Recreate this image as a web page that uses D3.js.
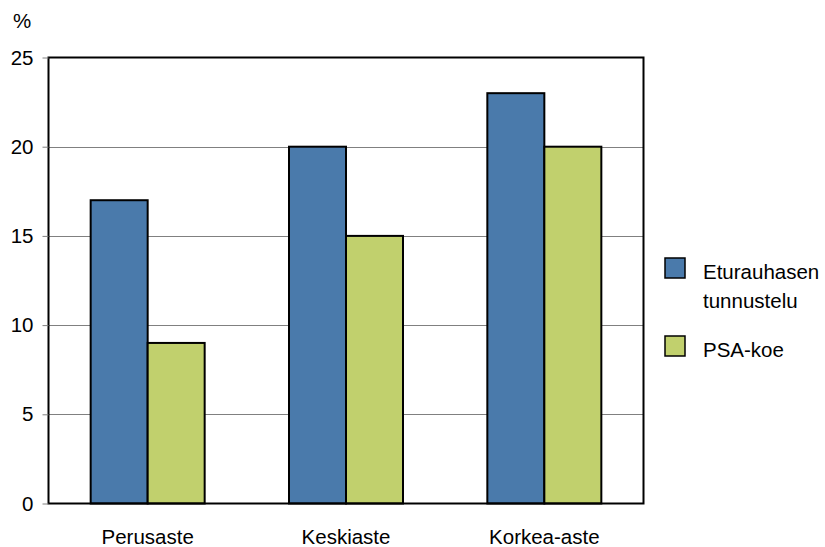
<!DOCTYPE html>
<html><head><meta charset="utf-8">
<script src="https://cdn.jsdelivr.net/npm/d3@7"></script>
<style>body{margin:0;background:#fff}svg{display:block}text{font-family:"Liberation Sans",Arial,sans-serif;fill:#000}</style>
</head><body><svg id="c" width="825" height="547"></svg>
<script>
const categories = ["Perusaste", "Keskiaste", "Korkea-aste"];
const seriesNames = ["Eturauhasen tunnustelu", "PSA-koe"];
const legendLines = [["Eturauhasen", "tunnustelu"], ["PSA-koe"]];
const eturauhasen = [17, 20, 23];
const psa = [9, 15, 20];
const yTicks = [0, 5, 10, 15, 20, 25];
const colors = ["#4a7aab", "#c1d06d"];

const FS = 20.5;
const svg = d3.select("#c");
const L = 48.5, R = 643.5, T = 57.5, B = 503.5;
const x = d3.scaleBand().domain(categories).range([L, R]);
const xs = d3.scaleBand().domain([0, 1]).range([0, 114]);
const y = d3.scaleLinear().domain([0, 25]).range([B, T]);

// gridlines
svg.append("g").selectAll("line").data(yTicks.filter(t => t > 0 && t < 25)).join("line")
  .attr("x1", L).attr("x2", R).attr("y1", d => Math.round(y(d)) + 0.5).attr("y2", d => Math.round(y(d)) + 0.5)
  .attr("stroke", "#808080").attr("stroke-width", 1);

const series = [eturauhasen, psa];
const bars = [];
categories.forEach((c, i) => series.forEach((s, j) => bars.push({c, j, v: s[i]})));
svg.append("g").selectAll("rect").data(bars).join("rect")
  .attr("x", d => x(d.c) + (x.bandwidth() - 114) / 2 + xs(d.j))
  .attr("y", d => y(d.v))
  .attr("width", xs.bandwidth())
  .attr("height", d => B - y(d.v))
  .attr("fill", d => colors[d.j]).attr("stroke", "#000").attr("stroke-width", 2);

// frame
svg.append("rect").attr("x", L).attr("y", T).attr("width", R - L).attr("height", B - T)
  .attr("fill", "none").attr("stroke", "#000").attr("stroke-width", 2);

// y axis
const yAxis = d3.axisLeft(y).tickValues(yTicks).tickSize(6).tickPadding(9);
const ya = svg.append("g").attr("transform", `translate(${L},0)`).call(yAxis);
ya.select(".domain").remove();
ya.selectAll("line").attr("stroke", "#808080");
ya.selectAll("text").attr("font-size", FS).attr("font-family", "Liberation Sans, Arial, sans-serif").attr("fill", "#000");

// x axis labels
const xAxis = d3.axisBottom(x).tickSize(0).tickPadding(26);
const xa = svg.append("g").attr("transform", `translate(0,${B})`).call(xAxis);
xa.select(".domain").remove();
xa.selectAll("text").attr("font-size", FS).attr("font-family", "Liberation Sans, Arial, sans-serif").attr("fill", "#000");

svg.append("text").attr("x", 22).attr("y", 28).attr("text-anchor", "middle").attr("font-size", FS).text("%");

// legend
const lg = svg.append("g");
const legY = [258, 336];
seriesNames.forEach((n, j) => {
  lg.append("rect").attr("x", 665).attr("y", legY[j]).attr("width", 20).attr("height", 20)
    .attr("fill", colors[j]).attr("stroke", "#000").attr("stroke-width", 1.5);
  legendLines[j].forEach((t, k) => {
    lg.append("text").attr("x", 703).attr("y", legY[j] + 21 + k * 29).attr("font-size", FS).text(t);
  });
});
</script></body></html>
